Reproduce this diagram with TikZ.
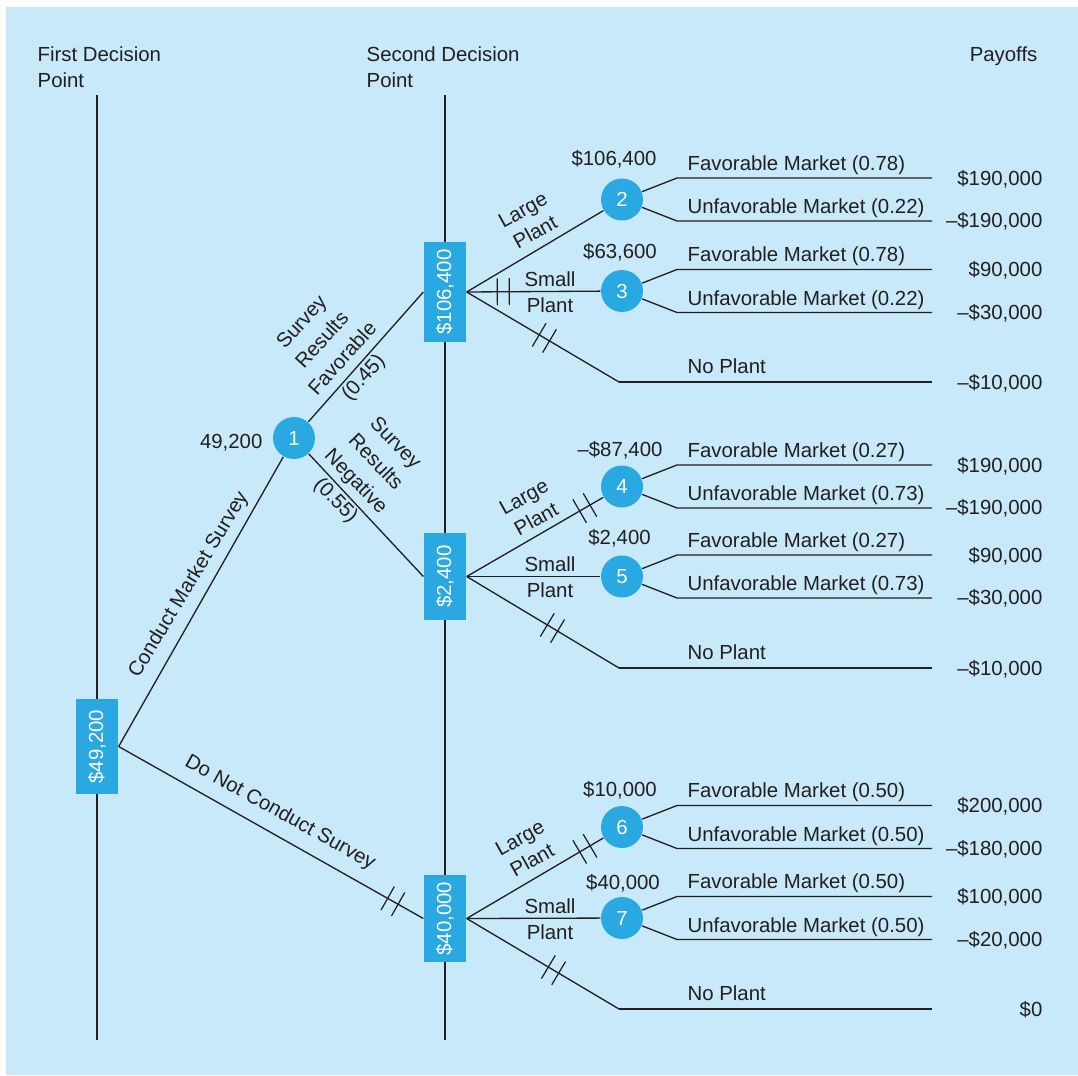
\documentclass[tikz,border=0pt]{standalone}
\usepackage{fontspec}
\setmainfont{Liberation Sans}
\definecolor{bgblue}{RGB}{199,233,249}
\definecolor{nodeblue}{RGB}{41,168,225}
\definecolor{ink}{RGB}{35,31,32}
\tikzset{
  decbox/.style={fill=nodeblue, text=white, minimum width=0.84cm, inner sep=0pt},
  chance/.style={circle, fill=nodeblue, text=white, minimum size=0.84cm, inner sep=0pt},
  lbl/.style={inner sep=0pt, text=ink},
  surveylbl/.style={lbl, align=center, font=\fontsize{11.6}{15.7}\selectfont},
  prune/.pic={\draw[ink, line width=0.7pt] (-0.12cm,-0.27cm) -- (-0.12cm,0.27cm)
    (0.12cm,-0.27cm) -- (0.12cm,0.27cm);}
}
\begin{document}
\begin{tikzpicture}[x=0.02cm, y=-0.02cm, color=ink, line width=0.75pt,
    font=\fontsize{11.6}{14.5}\selectfont]
  \useasboundingbox (0,0) rectangle (1078,1075);
  \fill[bgblue] (6,7) rectangle (1078,1075);
  \draw (97,95) -- (97,1040);
  \draw (445,95) -- (445,1040);
  \node[lbl, anchor=west, align=left] (head1) at (37,67) {First Decision\\Point};
  \node[lbl, anchor=west, align=left] (head2) at (366,67) {Second Decision\\Point};
  \node[lbl, anchor=base east] (head3) at (1038,61) {Payoffs};

  \node[decbox, minimum height=1.9cm] (dec1) at (97,746.5) {\rotatebox{90}{\$49,200}};
  \node[decbox, minimum height=2.02cm] (dec2fav) at (445,292) {\rotatebox{90}{\$106,400}};
  \node[decbox, minimum height=1.74cm] (dec2neg) at (445,576.5) {\rotatebox{90}{\$2,400}};
  \node[decbox, minimum height=1.74cm] (dec2none) at (445,918.5) {\rotatebox{90}{\$40,000}};
  \node[chance] (c1) at (294,438) {1};
  \node[lbl, anchor=base east] (ev1) at (263,448) {49,200};

  \foreach \n/\y/\ex/\eb/\ev/\pf/\pu/\ga/\gb in {
      2/199.5/614/165/{\$106,400}/0.78/0.22/{\$190,000}/{--\$190,000},
      3/291/620/258/{\$63,600}/0.78/0.22/{\$90,000}/{--\$30,000},
      4/486.5/620/456/{--\$87,400}/0.27/0.73/{\$190,000}/{--\$190,000},
      5/576.5/619.5/544/{\$2,400}/0.27/0.73/{\$90,000}/{--\$30,000},
      6/827/620/796/{\$10,000}/0.50/0.50/{\$200,000}/{--\$180,000},
      7/918/623/889/{\$40,000}/0.50/0.50/{\$100,000}/{--\$20,000}} {
    \node[chance] (c\n) at (622,\y) {\n};
    \node[lbl, anchor=base] (ev\n) at (\ex,\eb) {\ev};
    \draw (c\n) -- (677,\y-21.5) -- (932,\y-21.5);
    \draw (c\n) -- (677,\y+21.5) -- (932,\y+21.5);
    \node[lbl, anchor=base west] (fav\n) at (687,\y-29.5) {Favorable Market (\pf)};
    \node[lbl, anchor=base west] (unf\n) at (687,\y+14) {Unfavorable Market (\pu)};
    \node[lbl, anchor=base east] (hi\n) at (1043,\y-14.5) {\ga};
    \node[lbl, anchor=base east] (lo\n) at (1043,\y+28) {\gb};
  }

  \draw (dec1.east) -- (c1);
  \draw (dec1.east) -- (dec2none.west) pic[pos=0.9, sloped] {prune};
  \draw (c1) -- (dec2fav.west);
  \draw (c1) -- (dec2neg.west);
  \node[lbl, rotate=59] (cms) at (189,585) {Conduct Market Survey};
  \node[lbl, rotate=-29] (dncs) at (280,813) {Do Not Conduct Survey};
  \node[surveylbl, rotate=48] (srf) at (333.4,350.4) {Survey\\Results\\Favorable\\(0.45)};
  \node[surveylbl, rotate=-46] (srn) at (365,472.5) {Survey\\Results\\Negative\\(0.55)};

  \coordinate (np1) at (619,382);
  \draw (dec2fav.east) -- (c2);
  \draw (dec2fav.east) -- (c3) pic[pos=0.274, sloped] {prune};
  \draw (dec2fav.east) -- (np1) pic[pos=0.51, sloped] {prune};
  \draw (np1) -- (932,382);
  \node[lbl, rotate=29, align=center] (lp1) at (529,221) {Large\\Plant};
  \node[lbl, align=center] (sp1) at (550,292) {Small\\Plant};
  \node[lbl, anchor=base west] (nop1) at (687,373.5) {No Plant};
  \node[lbl, anchor=base east] (nov1) at (1043,389) {--\$10,000};

  \coordinate (np2) at (619,668);
  \draw (dec2neg.east) -- (c4) pic[pos=0.865, sloped] {prune};
  \draw (dec2neg.east) -- (c5);
  \draw (dec2neg.east) -- (np2) pic[pos=0.563, sloped] {prune};
  \draw (np2) -- (932,668);
  \node[lbl, rotate=29, align=center] (lp2) at (530,508) {Large\\Plant};
  \node[lbl, align=center] (sp2) at (550,577) {Small\\Plant};
  \node[lbl, anchor=base west] (nop2) at (687,659.5) {No Plant};
  \node[lbl, anchor=base east] (nov2) at (1043,675) {--\$10,000};

  \coordinate (np3) at (619,1009);
  \draw (dec2none.east) -- (c6) pic[pos=0.865, sloped] {prune};
  \draw (dec2none.east) -- (c7);
  \draw (dec2none.east) -- (np3) pic[pos=0.57, sloped] {prune};
  \draw (np3) -- (932,1009);
  \node[lbl, rotate=29, align=center] (lp3) at (526,849) {Large\\Plant};
  \node[lbl, align=center] (sp3) at (550,919) {Small\\Plant};
  \node[lbl, anchor=base west] (nop3) at (687,1000.5) {No Plant};
  \node[lbl, anchor=base east] (nov3) at (1043,1016.5) {\$0};
\end{tikzpicture}
\end{document}
